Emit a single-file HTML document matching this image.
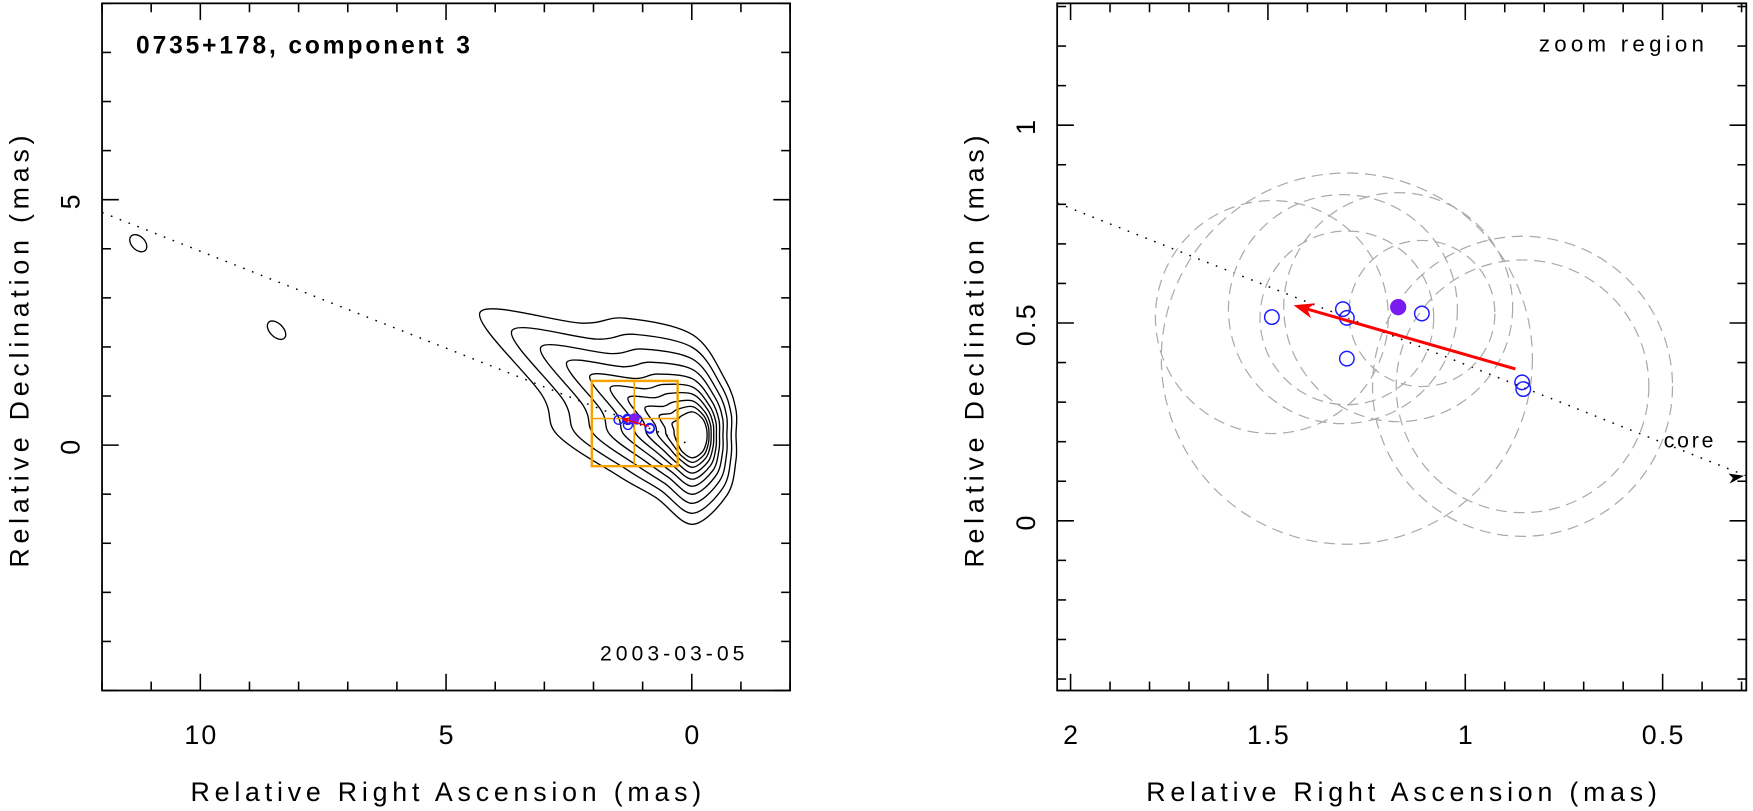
<!DOCTYPE html>
<html><head><meta charset="utf-8">
<style>
html,body{margin:0;padding:0;background:#fff;}
svg{display:block;}
text{font-family:"Liberation Sans",sans-serif;fill:#000;}
</style></head>
<body>
<svg id="fig" width="1753" height="811" viewBox="0 0 1572 727" preserveAspectRatio="none" xmlns="http://www.w3.org/2000/svg">
<rect width="1572" height="727" fill="#fff"/>
<g id="left"></g>
<g id="right"></g>
</svg>
<script>
// ---- data ----
const compRA = [1.49, 1.31, 1.30, 1.30, 1.11, 0.856, 0.853];
const compDec = [0.515, 0.535, 0.513, 0.41, 0.524, 0.35, 0.333];
const meanRA = [1.17];
const meanDec = [0.54];
const arrowFrom = [0.873, 0.384];
const arrowTo = [1.435, 0.545];
const circRA = [1.49, 1.30, 0.855, 0.855, 1.31, 1.30, 1.11, 1.17];
const circDec = [0.515, 0.41, 0.34, 0.34, 0.535, 0.513, 0.524, 0.54];
const circR = [0.295, 0.47, 0.38, 0.32, 0.29, 0.22, 0.185, 0.29];
const jetSlope = [0.395];
const contourAngles = [0,30,60,90,120,150,180,195,210,225,240,270,300,330];
const contourOuter = [39,45,62,80,65,75,121,140,220,142,121,90,58,45];
const contourLevels = [1,0.86,0.73,0.61,0.50,0.40,0.31,0.22,0.14,0.06];
const leftXTickVals = [10,5,0];
const leftYTickVals = [5,0];
const rightXTickVals = [2,1.5,1,0.5];
const rightYTickVals = [1,0.5,0];

const NS='http://www.w3.org/2000/svg';
function mk(tag,attrs,parent){const e=document.createElementNS(NS,tag);for(const k in attrs)e.setAttribute(k,attrs[k]);parent.appendChild(e);return e;}

const L={x0:91.5,x1:708.5,y0:3,y1:619,xa:12,xb:-2,ya:9,yb:-5};
const R={x0:948,x1:1566,y0:3,y1:619,xa:2.034,xb:0.288,ya:1.308,yb:-0.429};
function sx(P,v){return P.x0+(P.xa-v)/(P.xa-P.xb)*(P.x1-P.x0);}
function sy(P,v){return P.y0+(P.ya-v)/(P.ya-P.yb)*(P.y1-P.y0);}
const lg=document.getElementById('left'), rg=document.getElementById('right');

function frame(P,g,minor,major,xvals,yvals,xlab,ylab,name){
  const f=mk('rect',{x:P.x0,y:P.y0,width:P.x1-P.x0,height:P.y1-P.y0,fill:'none',stroke:'#000','stroke-width':1.6},g);
  
  
  const lo=Math.min(P.xa,P.xb), hi=Math.max(P.xa,P.xb);
  for(let v=Math.ceil(lo/minor-1e-6)*minor; v<=hi+1e-9; v+=minor){
    const isM=Math.abs(v/major-Math.round(v/major))<1e-6, len=isM?15:8, x=sx(P,v);
    const t1=mk('line',{x1:x,y1:P.y1,x2:x,y2:P.y1-len,stroke:'#000','stroke-width':1.4},g);
    
    
    const t2=mk('line',{x1:x,y1:P.y0,x2:x,y2:P.y0+len,stroke:'#000','stroke-width':1.4},g);
    
    
  }
  const ylo=Math.min(P.ya,P.yb), yhi=Math.max(P.ya,P.yb);
  for(let v=Math.ceil(ylo/minor-1e-6)*minor; v<=yhi+1e-9; v+=minor){
    const isM=Math.abs(v/major-Math.round(v/major))<1e-6, len=isM?15:8, y=sy(P,v);
    const t1=mk('line',{x1:P.x0,y1:y,x2:P.x0+len,y2:y,stroke:'#000','stroke-width':1.4},g);
    
    
    const t2=mk('line',{x1:P.x1,y1:y,x2:P.x1-len,y2:y,stroke:'#000','stroke-width':1.4},g);
    
    
  }
  xvals.forEach(v=>{
    const t=mk('text',{x:sx(P,v)+1,y:667,'font-size':24,'letter-spacing':2,'text-anchor':'middle'},g);t.textContent=String(v);
    
    
  });
  yvals.forEach(v=>{
    const cx=P.x0-20, cy=sy(P,v)+1;
    const t=mk('text',{x:cx,y:cy,'font-size':24,'letter-spacing':2,'text-anchor':'middle',transform:`rotate(-90 ${cx} ${cy})`},g);t.textContent=String(v);
    
    
  });
  const xt=mk('text',{x:(P.x0+P.x1)/2+2,y:727-9,'font-size':24,'letter-spacing':4.3,'text-anchor':'middle'},g);xt.textContent=xlab;
  
  
  const ycx=P.x0-66, ycy=(P.y0+P.y1)/2+2;
  const yt=mk('text',{x:ycx,y:ycy,'font-size':24,'letter-spacing':4.3,'text-anchor':'middle',transform:`rotate(-90 ${ycx} ${ycy})`},g);yt.textContent=ylab;
  
  
}
frame(L,lg,1,5,leftXTickVals,leftYTickVals,'Relative Right Ascension (mas)','Relative Declination (mas)','left');
frame(R,rg,0.1,0.5,rightXTickVals,rightYTickVals,'Relative Right Ascension (mas)','Relative Declination (mas)','right');

const defs=mk('defs',{},document.getElementById('fig'));
const cl=mk('clipPath',{id:'clipL'},defs);mk('rect',{x:L.x0,y:L.y0,width:L.x1-L.x0,height:L.y1-L.y0},cl);
const cr=mk('clipPath',{id:'clipR'},defs);mk('rect',{x:R.x0,y:R.y0,width:R.x1-R.x0,height:R.y1-R.y0},cr);
const lc=mk('g',{'clip-path':'url(#clipL)'},lg), rc=mk('g',{'clip-path':'url(#clipR)'},rg);

// ---- left panel contours ----
const cx0=621, cy0=390;
function rin(th){const c=Math.cos(th),s=Math.sin(th);return 1/Math.sqrt(c*c/144+s*s/324);}
contourLevels.forEach((t,k)=>{
  const pts=contourAngles.map((a,i)=>{const th=a*Math.PI/180;const ri=rin(th);const r=ri+(contourOuter[i]-ri)*Math.pow(t,1.15);return [cx0+r*Math.cos(th),cy0+r*Math.sin(th)];});
  const n=pts.length;let d=`M${pts[0][0].toFixed(1)},${pts[0][1].toFixed(1)}`;
  for(let i=0;i<n;i++){const p0=pts[(i-1+n)%n],p1=pts[i],p2=pts[(i+1)%n],p3=pts[(i+2)%n];
    d+=` C${(p1[0]+(p2[0]-p0[0])/6).toFixed(1)},${(p1[1]+(p2[1]-p0[1])/6).toFixed(1)} ${(p2[0]-(p3[0]-p1[0])/6).toFixed(1)},${(p2[1]-(p3[1]-p1[1])/6).toFixed(1)} ${p2[0].toFixed(1)},${p2[1].toFixed(1)}`;}
  const p=mk('path',{d:d+'Z',fill:'none',stroke:'#000','stroke-width':1.2},lc);
  
  
});
const is1=mk('ellipse',{cx:124,cy:218,rx:9,ry:6,transform:'rotate(45 124 218)',fill:'none',stroke:'#000','stroke-width':1.2},lc);


const is2=mk('ellipse',{cx:248,cy:296,rx:10,ry:6,transform:'rotate(45 248 296)',fill:'none',stroke:'#000','stroke-width':1.2},lc);



const jl=mk('line',{x1:sx(L,12),y1:sy(L,12*jetSlope[0]),x2:sx(L,0),y2:sy(L,0),stroke:'#000','stroke-width':1.3,'stroke-dasharray':'1.5 7'},lc);


const jr=mk('line',{x1:sx(R,R.xa),y1:sy(R,R.xa*jetSlope[0]),x2:sx(R,R.xb),y2:sy(R,R.xb*jetSlope[0]),stroke:'#000','stroke-width':1.3,'stroke-dasharray':'1.5 7'},rc);


{const x=sx(R,R.xb)-2,y=sy(R,R.xb*jetSlope[0]);
const ah=mk('path',{d:`M${x},${y} l-14,-2 l4,4 l-3,5 Z`,fill:'#000'},rg);

}

const zb=mk('rect',{x:sx(L,R.xa),y:sy(L,R.ya),width:sx(L,R.xb)-sx(L,R.xa),height:sy(L,R.yb)-sy(L,R.ya),fill:'none',stroke:'#f5a300','stroke-width':2.2},lg);


const zv=mk('line',{x1:sx(L,meanRA[0]),y1:sy(L,R.ya),x2:sx(L,meanRA[0]),y2:sy(L,R.yb),stroke:'#f5a300','stroke-width':1.5},lg);


const zh=mk('line',{x1:sx(L,R.xa),y1:sy(L,meanDec[0]),x2:sx(L,R.xb),y2:sy(L,meanDec[0]),stroke:'#f5a300','stroke-width':1.5},lg);



circRA.forEach((v,i)=>{
  const c=mk('circle',{cx:sx(R,v),cy:sy(R,circDec[i]),r:circR[i]*354,fill:'none',stroke:'#aaa','stroke-width':1.1,'stroke-dasharray':'10 6'},rc);
  
  
});

function markers(P,g,r,aw){
  compRA.forEach((v,i)=>{
    const c=mk('circle',{cx:sx(P,v),cy:sy(P,compDec[i]),r:r,fill:'none',stroke:'#1a1aff','stroke-width':1.3},g);
    
    
  });
  const m=mk('circle',{cx:sx(P,meanRA[0]),cy:sy(P,meanDec[0]),r:r+0.8,fill:'#7a1cf0'},g);
  
  
  const x1=sx(P,arrowFrom[0]),y1=sy(P,arrowFrom[1]),x2=sx(P,arrowTo[0]),y2=sy(P,arrowTo[1]);
  const dx=x2-x1,dy=y2-y1,len=Math.hypot(dx,dy),ux=dx/len,uy=dy/len,h=aw*2.6,w=aw;
  const a=mk('line',{x1:x1,y1:y1,x2:x2-ux*h*0.7,y2:y2-uy*h*0.7,stroke:'#f00','stroke-width':aw/2.6},g);
  
  
  const bx=x2-ux*h,by=y2-uy*h,mx=x2-ux*h*0.7,my=y2-uy*h*0.7;
  const ah=mk('path',{d:`M${x2},${y2} L${bx-uy*w},${by+ux*w} L${mx},${my} L${bx+uy*w},${by-ux*w} Z`,fill:'#f00'},g);
  
  
}
markers(R,rg,6.5,7);
markers(L,lg,4,3);

const tt=mk('text',{x:122,y:48,'font-size':22,'letter-spacing':2.6,'font-weight':'bold','font-family':'Liberation Serif, serif'},lg);tt.textContent='0735+178, component 3';


const dt=mk('text',{x:538,y:592,'font-size':19,'letter-spacing':3.6,fill:'#222'},lg);dt.textContent='2003-03-05';


const zr=mk('text',{x:1380,y:46,'font-size':20,'letter-spacing':3.8,fill:'#222'},rg);zr.textContent='zoom region';


const co=mk('text',{x:1492,y:401,'font-size':19,'letter-spacing':2.5,fill:'#222'},rg);co.textContent='core';


</script>
</body></html>
